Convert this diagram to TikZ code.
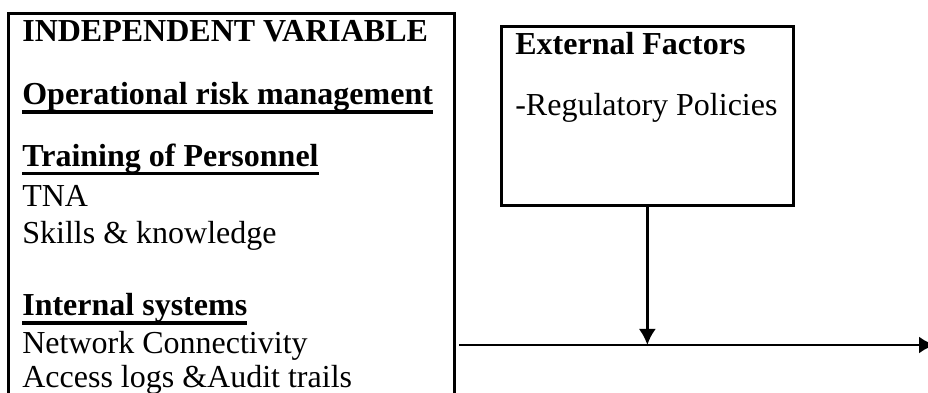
\documentclass[tikz,border=0pt]{standalone}
\usepackage{fontspec}
\setmainfont{Liberation Serif}
\usetikzlibrary{arrows.meta}
\tikzstyle{block} = [rectangle, draw, line width=1pt, anchor=north west,
    inner xsep=5.25pt, inner ysep=0.9pt, font=\fontsize{12}{13.7}\selectfont]
\tikzstyle{line} = [draw, line width=1pt, -{Latex[length=6pt,width=6.4pt]}]
\newcommand{\ulhead}[1]{\setbox0\hbox{\textbf{#1}}\rlap{\vrule height -2pt depth 3.3pt width \wd0}\box0}

\begin{document}
\begin{tikzpicture}[x=0.375pt, y=-0.375pt]
	\useasboundingbox (0,0) rectangle (928,393);
	\clip (0,0) rectangle (928,393);
		\node [block] (indep) at (7,12) {\parbox[t][150pt][t]{156.75pt}{\strut\textbf{INDEPENDENT VARIABLE}\\[10.1pt]
			\ulhead{Operational risk management}\\[9.4pt]
			\ulhead{Training of Personnel}\\[1.5pt]
			TNA\\
			Skills \& knowledge\\[13.5pt]
			\ulhead{Internal systems}\\[0.3pt]
			Network Connectivity\\[-0.8pt]
			Access logs \&Audit trails}};
		\node [block] (ext) at (500,25) {\parbox[t][65.3pt][t]{99pt}{\strut\textbf{External Factors}\\[9.4pt]
			-Regulatory Policies}};
		\coordinate (out) at (935,345);
		
		\path [line, shorten <=1.2pt] (indep.east |- out) -- (out);
		\path [line] (ext) -- (ext.south |- out);
	\end{tikzpicture}
\end{document}
